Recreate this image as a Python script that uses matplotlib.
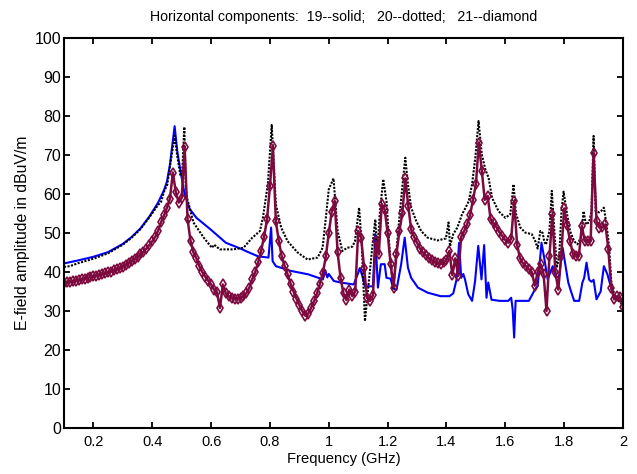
import numpy as np
import matplotlib
matplotlib.use("Agg")
import matplotlib.pyplot as plt
from matplotlib.ticker import FuncFormatter

plt.rcParams['font.family'] = ['Liberation Sans Narrow', 'Liberation Sans', 'DejaVu Sans']

# --- 19: solid (blue) ---
blue_f = [0.10, 0.15, 0.20, 0.25, 0.30, 0.33, 0.36, 0.39, 0.42, 0.44, 0.45, 0.46, 0.476,
          0.485, 0.496, 0.509, 0.527, 0.55, 0.60, 0.65, 0.70, 0.72, 0.76, 0.795, 0.804,
          0.809, 0.82, 0.87, 0.93, 0.98, 0.988, 0.995, 1.00, 1.017, 1.04, 1.085, 1.10,
          1.105, 1.112, 1.123, 1.15, 1.158, 1.163, 1.167, 1.177, 1.19, 1.196, 1.21, 1.219,
          1.23, 1.246, 1.258, 1.269, 1.28, 1.303, 1.336, 1.38, 1.41, 1.423, 1.434, 1.443,
          1.45, 1.457, 1.463, 1.474, 1.487, 1.497, 1.508, 1.519, 1.528, 1.536, 1.542, 1.553,
          1.58, 1.61, 1.62, 1.625, 1.63, 1.635, 1.68, 1.70, 1.71, 1.723, 1.732, 1.744,
          1.761, 1.772, 1.783, 1.795, 1.802, 1.814, 1.823, 1.834, 1.851, 1.862, 1.868,
          1.876, 1.885, 1.893, 1.90, 1.91, 1.924, 1.935, 1.947, 1.958, 1.97, 1.98, 2.00]
blue_v = [42.2, 43.0, 43.9, 45.1, 47.2, 49.0, 51.2, 54.2, 57.8, 61.0, 63.2, 67.5, 77.4,
          71.0, 65.9, 60.3, 56.2, 53.9, 50.8, 47.5, 46.0, 45.3, 44.0, 43.7, 51.4,
          42.8, 41.5, 40.3, 39.4, 38.1, 40.5, 38.6, 39.5, 37.7, 37.3, 36.8, 39.8,
          41.0, 39.5, 36.4, 36.3, 49.7, 42.0, 36.0, 42.0, 42.0, 38.5, 38.3, 35.8,
          35.4, 42.0, 48.8, 41.1, 38.5, 36.0, 34.7, 33.8, 33.8, 34.5, 38.0, 47.5,
          38.5, 39.5, 38.1, 34.3, 32.6, 37.5, 46.7, 38.1, 46.9, 33.4, 37.3, 32.9,
          32.6, 32.6, 33.4, 30.4, 23.2, 32.6, 32.6, 35.4, 36.5, 47.5, 43.7, 38.1,
          41.5, 38.5, 39.0, 46.2, 42.8, 37.3, 35.1, 32.6, 32.6, 37.3, 38.5,
          42.4, 38.0, 37.5, 38.0, 33.0, 35.0, 41.5, 39.4, 36.4, 33.4, 33.0, 32.0]

# --- 20: dotted (black) ---
black_f = [0.10, 0.12, 0.15, 0.20, 0.25, 0.30, 0.33, 0.36, 0.39, 0.42, 0.43, 0.44, 0.451,
           0.462, 0.476, 0.485, 0.496, 0.502, 0.509, 0.514, 0.518, 0.54, 0.575, 0.603,
           0.61, 0.63, 0.675, 0.71, 0.74, 0.766, 0.776, 0.793, 0.806, 0.82, 0.838, 0.86,
           0.894, 0.928, 0.962, 0.979, 0.99, 1.00, 1.016, 1.03, 1.046, 1.063, 1.08, 1.089,
           1.103, 1.112, 1.123, 1.134, 1.15, 1.158, 1.165, 1.173, 1.185, 1.196, 1.207,
           1.219, 1.23, 1.241, 1.253, 1.26, 1.269, 1.28, 1.297, 1.314, 1.336, 1.37, 1.398,
           1.407, 1.412, 1.423, 1.437, 1.453, 1.465, 1.476, 1.487, 1.498, 1.509, 1.52,
           1.532, 1.543, 1.555, 1.577, 1.60, 1.617, 1.628, 1.636, 1.651, 1.668, 1.69,
           1.702, 1.71, 1.719, 1.727, 1.732, 1.738, 1.75, 1.758, 1.766, 1.775, 1.783,
           1.791, 1.798, 1.81, 1.82, 1.834, 1.845, 1.857, 1.866, 1.874, 1.885, 1.893,
           1.90, 1.907, 1.919, 1.928, 1.935, 1.944, 1.953, 1.96, 1.97, 1.98, 1.992, 2.00]
black_v = [41.3, 41.5, 42.3, 43.4, 44.8, 47.0, 48.8, 51.0, 54.0, 57.2, 58.0, 60.6, 62.4,
           68.0, 74.9, 69.7, 64.6, 65.9, 77.2, 61.6, 59.0, 52.7, 48.8, 46.2,
           47.0, 45.8, 45.8, 46.2, 48.8, 50.5, 53.9, 62.6, 77.7, 57.4, 51.4, 47.9,
           45.0, 43.2, 43.7, 46.2, 53.9, 61.2, 64.0, 50.5, 45.4, 46.2, 46.5, 47.9,
           56.5, 47.2, 27.4, 36.0, 47.9, 53.5, 45.0, 54.8, 63.8, 58.2, 45.4,
           35.6, 45.4, 54.8, 64.2, 69.3, 62.5, 56.5, 53.1, 50.5, 48.8, 48.1, 48.6,
           52.7, 46.6, 49.7, 51.4, 54.8, 56.5, 58.2, 62.5, 69.3, 78.7, 70.2,
           66.3, 64.2, 59.0, 55.6, 53.9, 54.8, 62.5, 55.0, 51.4, 50.1, 49.7,
           47.9, 46.0, 50.5, 50.0, 47.9, 47.0, 50.5, 60.8, 51.4, 41.1, 44.0,
           55.6, 60.6, 54.8, 50.5, 47.9, 47.1, 48.8, 55.6, 52.2, 52.8, 55.6,
           74.9, 55.6, 55.3, 55.8, 56.5, 52.2, 46.2, 37.7, 34.3, 33.0, 32.1, 31.5]

# --- 21: diamond (maroon), sampled every 10 MHz from 0.10 to 2.00 GHz ---
diamond_f = np.round(np.arange(0.10, 2.0001, 0.01), 2)
diamond_v = [
    37.3, 37.4, 37.5, 37.6, 37.8, 37.9, 38.1, 38.3, 38.5, 38.7,   # 0.10-0.19
    38.9, 39.1, 39.3, 39.5, 39.7, 39.9, 40.1, 40.4, 40.7, 41.0,   # 0.20-0.29
    41.4, 41.8, 42.3, 42.8, 43.3, 43.9, 44.5, 45.2, 46.0, 46.9,   # 0.30-0.39
    47.9, 49.0, 50.6, 52.8, 54.5, 56.5, 58.8, 65.5, 60.5, 57.8,   # 0.40-0.49
    59.0, 72.0, 53.5, 48.0, 45.0, 43.5, 41.5, 40.0, 38.8, 37.8,   # 0.50-0.59
    36.8, 35.5, 34.8, 30.8, 36.8, 34.5, 33.8, 33.4, 33.2, 33.2,   # 0.60-0.69
    33.4, 33.8, 34.6, 36.0, 38.2, 40.0, 42.5, 45.5, 49.0, 53.5,   # 0.70-0.79
    62.0, 72.3, 53.0, 48.0, 44.0, 41.5, 39.4, 37.0, 35.0, 33.2,   # 0.80-0.89
    31.5, 30.0, 28.8, 29.3, 30.8, 32.5, 34.5, 37.0, 39.8, 44.0,   # 0.90-0.99
    50.0, 55.5, 58.2, 45.0, 38.5, 34.5, 32.8, 35.5, 33.8, 35.0,   # 1.00-1.09
    50.5, 48.8, 41.0, 33.4, 32.6, 34.0, 47.9, 44.5, 57.4, 56.0,   # 1.10-1.19
    50.0, 42.0, 36.0, 44.5, 50.5, 55.0, 64.0, 57.0, 50.9, 49.0,   # 1.20-1.29
    47.5, 46.0, 45.0, 44.3, 43.6, 43.0, 42.6, 42.2, 42.0, 42.5,   # 1.30-1.39
    43.0, 45.4, 39.2, 43.5, 39.0, 49.0, 50.5, 52.2, 54.5, 58.5,   # 1.40-1.49
    62.5, 73.2, 66.0, 58.5, 59.5, 53.5, 52.5, 51.5, 50.2, 49.2,   # 1.50-1.59
    48.2, 47.5, 48.5, 58.2, 47.0, 43.5, 42.2, 41.5, 40.7, 40.0,   # 1.60-1.69
    36.5, 40.0, 42.0, 39.5, 30.0, 44.0, 54.8, 40.0, 35.5, 44.0,   # 1.70-1.79
    56.3, 52.0, 48.0, 44.5, 44.0, 44.1, 51.8, 47.9, 47.9, 48.0,   # 1.80-1.89
    70.6, 53.0, 51.4, 51.6, 52.2, 46.0, 36.0, 33.0, 33.8, 33.5,   # 1.90-1.99
    31.0]                                                         # 2.00

x_ticks = [0.2, 0.4, 0.6, 0.8, 1.0, 1.2, 1.4, 1.6, 1.8, 2.0]
y_ticks = [0, 10, 20, 30, 40, 50, 60, 70, 80, 90, 100]

fig = plt.figure(figsize=(6.37, 4.74), dpi=100)
ax = fig.add_axes([64 / 637, 1 - 428 / 474, (623 - 64) / 637, (428 - 38) / 474])

ax.plot(blue_f, blue_v, color='#0000ff', lw=1.5)
ax.plot(black_f, black_v, color='black', lw=1.5, ls=(0, (1, 0.7)))
ax.plot(diamond_f, diamond_v, color='#7d0a3e', lw=1.8, marker='d', ms=5,
        mfc='none', mec='#7d0a3e', mew=1.2)

ax.set_xlim(0.1, 2.0)
ax.set_ylim(0, 100)
ax.set_xticks(x_ticks)
ax.set_yticks(y_ticks)
ax.xaxis.set_major_formatter(FuncFormatter(lambda v, p: '%g' % v))
ax.tick_params(direction='in', top=True, right=True, length=4.5, width=1.3)
ax.tick_params(axis='x', labelsize=10.5, pad=5)
ax.tick_params(axis='y', labelsize=11.5, pad=2)
for lab in ax.get_yticklabels():
    lab.set_family(['Liberation Sans', 'DejaVu Sans'])
for s in ax.spines.values():
    s.set_linewidth(1.5)

ax.set_title('Horizontal components:  19--solid;   20--dotted;   21--diamond',
             fontsize=10.2, pad=12)
ax.set_xlabel('Frequency (GHz)', fontsize=10.6, labelpad=2)
ax.set_ylabel('E-field amplitude in dBuV/m', fontsize=11.3, labelpad=3)

fig.savefig('out.png', dpi=100)
